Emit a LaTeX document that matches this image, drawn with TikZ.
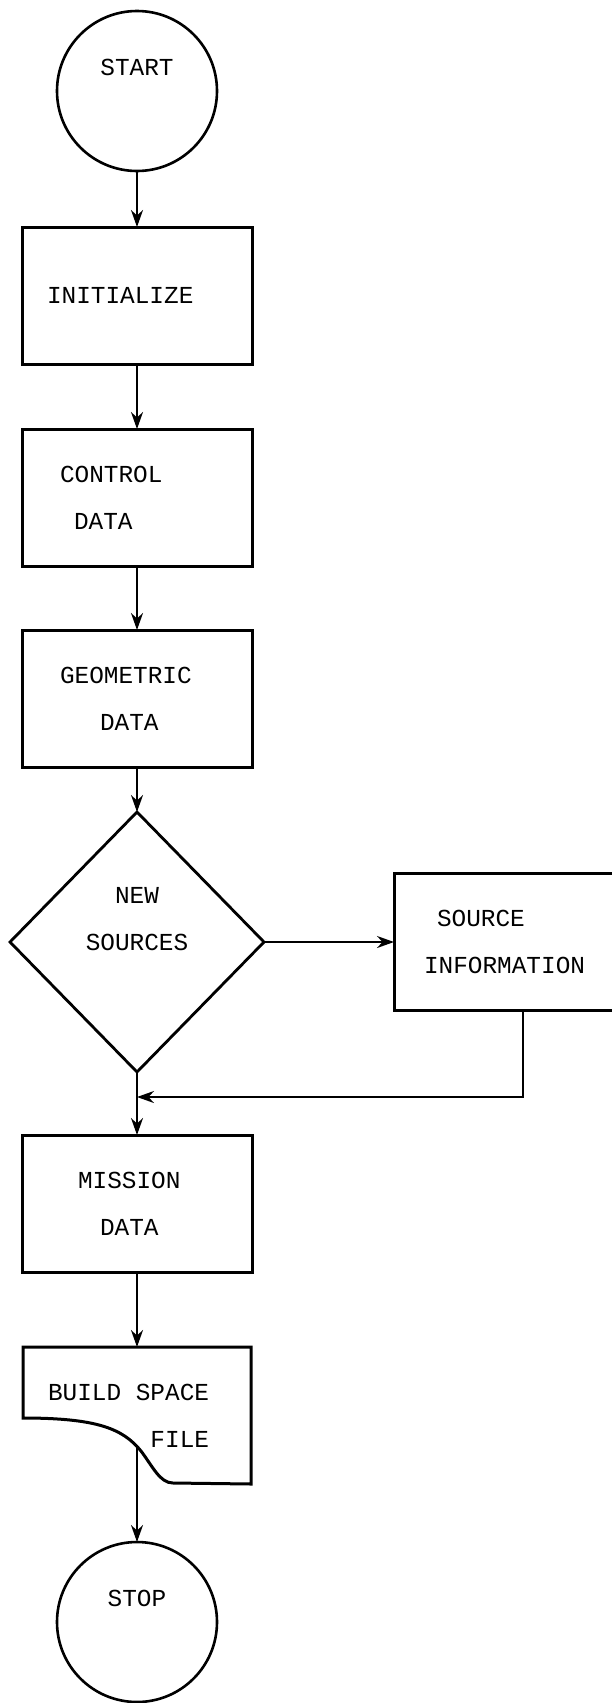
\documentclass[tikz,border=0pt]{standalone}
\usepackage{fontspec}
\setmonofont{Liberation Mono}
\usetikzlibrary{positioning}
\usetikzlibrary{shapes.geometric}
\usetikzlibrary{arrows.meta}
\usetikzlibrary{calc}
\tikzset{
    every node/.append style={
        font=\ttfamily\fontsize{24.4pt}{47pt}\selectfont,
        outer sep=0pt
    },
    terminal/.style={
        draw,
        circle,
        line width=2.6pt,
        minimum size=160pt,
        align=center
    },
    process/.style={
        draw,
        rectangle,
        line width=3pt,
        minimum width=230pt,
        minimum height=137pt,
        text width=190pt,
        inner xsep=20pt,
        align=left
    },
    decision/.style={
        draw,
        diamond,
        line width=2.8pt,
        minimum width=254pt,
        minimum height=260pt,
        inner sep=0pt,
        align=center
    },
    flow/.style={
        ->,>={Stealth[length=17pt,width=12pt]},
        line width=2pt
    },
    every edge/.append style={
        draw,
        flow
    }
}
\begin{document}
\begin{tikzpicture}
    \useasboundingbox (0pt,0pt) rectangle (612pt,-1703pt);

    \node[terminal] (start) at (137pt,-91pt) {START\\~};
    \node[process, below=56pt of start] (init) {\hspace*{5pt}INITIALIZE};
    \node[process, below=65pt of init] (ctrl) {\hspace*{18pt}CONTROL\\\hspace*{32pt}DATA};
    \node[process, below=64pt of ctrl] (geo) {\hspace*{18pt}GEOMETRIC\\\hspace*{58pt}DATA};
    \node[decision, below=45pt of geo] (new) {NEW\\SOURCES\\~};
    \node[process, right=130pt of new, minimum width=222pt, text width=182pt] (src) {\hspace*{23pt}SOURCE\\\hspace*{10pt}INFORMATION};
    \coordinate[below=25pt of new] (join);
    \node[process, below=63pt of new] (mis) {\hspace*{36pt}MISSION\\\hspace*{58pt}DATA};
    \node[process, draw=none, below=75pt of mis, minimum width=228pt, text width=188pt] (build) {\hspace*{5pt}BUILD\hspace{0.6em}SPACE\\\hspace*{5pt}\phantom{BUILD\hspace{0.6em}S}FILE};
    \node[terminal, below=58pt of build] (stop) {STOP\\~};

    % outline of the file symbol
    \draw[line width=3pt] (build.north west) -- (build.north east) -- (build.south east)
        -- ($(build.south west)+(150pt,1pt)$)
        .. controls ($(build.south west)+(137pt,1pt)$) and ($(build.south west)+(130pt,17pt)$) .. ($(build.south west)+(118pt,33pt)$)
        .. controls ($(build.south west)+(100pt,55pt)$) and ($(build.south west)+(75pt,66pt)$) .. ($(build.south west)+(0pt,66pt)$)
        -- cycle;

    \draw (start) edge (init);
    \draw (init) edge (ctrl);
    \draw (ctrl) edge (geo);
    \draw (geo) edge (new);
    \draw (new) edge (src);
    \draw (new) edge (mis);
    \draw[flow] ([xshift=18pt]src.south) |- (join);
    \draw (mis) edge (build);
    \draw ([yshift=37pt]build.south) edge (stop);

\end{tikzpicture}
\end{document}
